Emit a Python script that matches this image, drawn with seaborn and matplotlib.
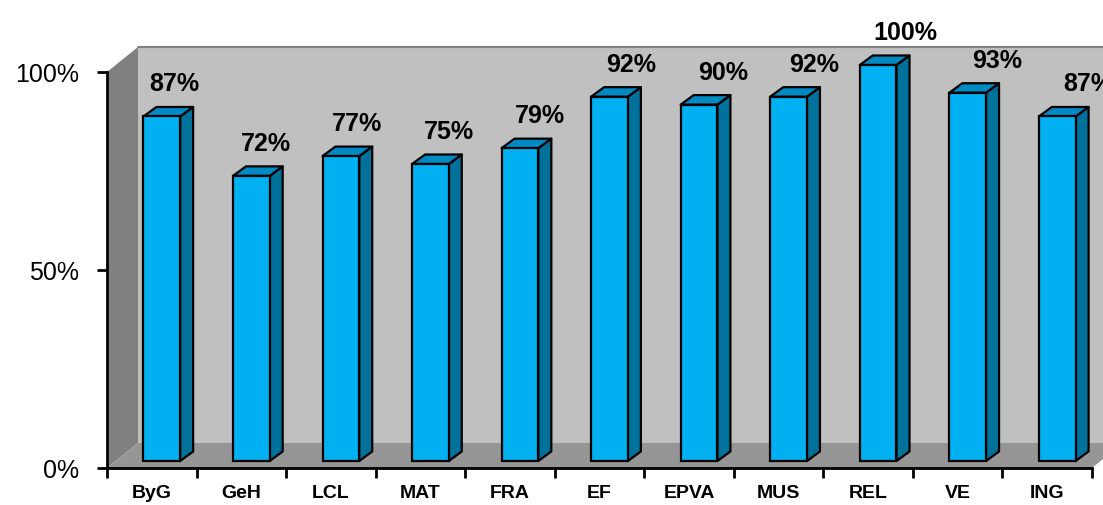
#!/usr/bin/env python3
"""3D-style bar chart: pass rate per subject."""

import matplotlib
matplotlib.use("Agg")
import matplotlib.pyplot as plt
from matplotlib.patches import Polygon
import numpy as np
import pandas as pd
import seaborn as sns

# ── data ────────────────────────────────────────────────────────────
subjects = ["ByG", "GeH", "LCL", "MAT", "FRA", "EF", "EPVA", "MUS", "REL", "VE", "ING"]
pass_pct = [87, 72, 77, 75, 79, 92, 90, 92, 100, 93, 87]
y_ticks = [0, 50, 100]

# ── style ───────────────────────────────────────────────────────────
sns.set_theme(style="white")
plt.rcParams["font.family"] = ["Liberation Sans", "DejaVu Sans"]
plt.rcParams["text.color"] = "black"
plt.rcParams["xtick.color"] = "black"
plt.rcParams["ytick.color"] = "black"
plt.rcParams["xtick.labelcolor"] = "black"
plt.rcParams["ytick.labelcolor"] = "black"

FRONT = "#00B0F0"
SIDE = "#00719B"
TOP = "#0089C2"
BACK_WALL = "#C0C0C0"
SIDE_WALL = "#808080"
FLOOR = "#969696"

W, H = 1103, 505
fig = plt.figure(figsize=(W / 100, H / 100), dpi=100)
ax = fig.add_axes([107 / W, 37 / H, 985 / W, 396 / H])
ax.set_facecolor("none")

n = len(subjects)
px_x = 985 / n          # pixels per category
px_y = 396 / 100        # pixels per percent

def dx(px):
    return px / px_x

def dy(px):
    return px / px_y

df = pd.DataFrame({"subject": subjects, "pct": pass_pct})
sns.barplot(data=df, x="subject", y="pct", order=subjects, width=0.41,
            color=FRONT, saturation=1, ax=ax, zorder=3)

ax.set_xlim(-0.5, n - 0.5)
ax.set_ylim(0, 100)

# ── walls & floor (depth offset 31px right, 25px up) ────────────────
wx, wy = dx(31), dy(25)
x0, x1 = -0.5, n - 0.5
ax.add_patch(Polygon([(x0 + wx, wy), (x1 + wx, wy), (x1 + wx, 100 + wy), (x0 + wx, 100 + wy)],
                     closed=True, fc=BACK_WALL, ec="none", zorder=0, clip_on=False))
ax.plot([x0 + wx, x1 + wx], [100 + wy, 100 + wy], color="#808080", lw=1.5,
        zorder=0.5, clip_on=False)
ax.add_patch(Polygon([(x0, 0), (x0, 100), (x0 + wx, 100 + wy), (x0 + wx, wy)],
                     closed=True, fc=SIDE_WALL, ec="none", zorder=0.6, clip_on=False))
ax.add_patch(Polygon([(x0, 0), (x1, 0), (x1 + wx, wy), (x0 + wx, wy)],
                     closed=True, fc=FLOOR, ec="none", zorder=0.7, clip_on=False))

# ── turn flat bars into 3D boxes ────────────────────────────────────
base_dx, base_dy = dx(10), dy(7)
bx, by = dx(13), dy(9.5)
for i, (patch, v) in enumerate(zip(ax.patches[:n], pass_pct)):
    patch.set_x(patch.get_x() + base_dx)
    patch.set_y(base_dy)
    patch.set_height(v)
    patch.set_edgecolor("black")
    patch.set_linewidth(1.6)
    patch.set_zorder(4)
    patch.set_clip_on(False)
    l = patch.get_x()
    r = l + patch.get_width()
    b = base_dy
    t = base_dy + v
    ax.add_patch(Polygon([(r, b), (r + bx, b + by), (r + bx, t + by), (r, t)],
                         closed=True, fc=SIDE, ec="black", lw=1.6, zorder=3.5,
                         joinstyle="round", clip_on=False))
    ax.add_patch(Polygon([(l, t), (r, t), (r + bx, t + by), (l + bx, t + by)],
                         closed=True, fc=TOP, ec="black", lw=1.6, zorder=3.5,
                         joinstyle="round", clip_on=False))
    # data label
    lx = (l + r) / 2 + dx(12.7 + 1.83 * i)
    ax.text(lx, t + dy(25), f"{v}%", ha="center", va="baseline",
            fontsize=18, fontweight="bold", color="black", clip_on=False, zorder=6)

# ── axes ────────────────────────────────────────────────────────────
for side in ["top", "right"]:
    ax.spines[side].set_visible(False)
for side in ["left", "bottom"]:
    ax.spines[side].set_color("black")
    ax.spines[side].set_linewidth(2)
    ax.spines[side].set_zorder(5)

ax.set_yticks(y_ticks)
ax.set_yticklabels([f"{t}%" for t in y_ticks], fontsize=18, color="black")
ax.tick_params(axis="y", direction="out", length=7, width=2, color="black",
               pad=13, left=True)

ax.set_xticks(np.arange(n))
ax.set_xticklabels(subjects, fontsize=14, fontweight="bold", color="black")
ax.set_xticks(np.arange(n + 1) - 0.5, minor=True)
ax.tick_params(axis="x", which="major", length=0, pad=12)
ax.tick_params(axis="x", which="minor", direction="out", length=7, width=2,
               color="black", bottom=True)
ax.set_xlabel("")
ax.set_ylabel("")
ax.grid(False)

fig.savefig("out.png", dpi=100)
plt.close(fig)
